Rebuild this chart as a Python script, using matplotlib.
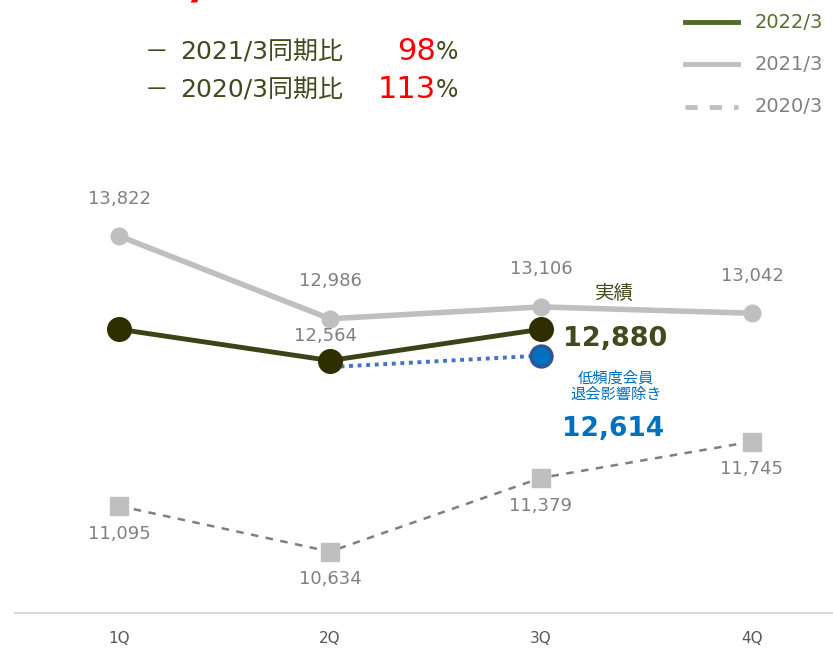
import matplotlib
matplotlib.use("Agg")
import matplotlib.pyplot as plt

plt.rcParams['font.family'] = ['DejaVu Sans', 'Noto Sans CJK JP']

quarters = ["1Q", "2Q", "3Q", "4Q"]
fy2022 = [12880, 12564, 12880]
fy2021 = [13822, 12986, 13106, 13042]
fy2020 = [11095, 10634, 11379, 11745]
adjusted = [12564, 12614]   # 低頻度会員退会影響除き (2Q -> 3Q)

olive = "#3b4419"
olive_text = "#414b1e"
grey_line = "#bfbfbf"
grey_text = "#808080"
blue = "#0070c0"

fig = plt.figure(figsize=(8.33, 6.5), dpi=100)
ax = fig.add_axes([15 / 833, 37 / 650, 818 / 833, 613 / 650])
ax.set_xlim(-0.493, 3.384)
ax.set_ylim(10014, 16206)

x = list(range(len(quarters)))

# 2020/3 dashed
ax.plot(x, fy2020, color="#7f7f7f", lw=1.8, ls=(0, (3, 3)), zorder=2)
ax.plot(x, fy2020, ls="none", marker="s", ms=13, color=grey_line, zorder=3)
# 2021/3
ax.plot(x, fy2021, color=grey_line, lw=4, marker="o", ms=12,
        markerfacecolor=grey_line, markeredgecolor=grey_line, zorder=3)
# 2022/3
ax.plot(x[:3], fy2022, color=olive, lw=3.5, zorder=4)
ax.plot(x[:3], fy2022, ls="none", marker="o", ms=17, color="#2e2e00", zorder=5)
# adjusted
ax.plot([1.05, 2], [adjusted[0] - 60, adjusted[1]], color="#4472c4", lw=2.8,
        ls=(0, (1, 1.2)), zorder=4)
ax.plot(2, adjusted[1], marker="o", ms=15, color=blue, markeredgecolor="#2f5597",
        markeredgewidth=2.5, zorder=6)

# value labels
for i, v in enumerate(fy2021):
    ax.annotate(f"{v:,}", (i, v), xytext=(0, 27), textcoords="offset points",
                ha="center", va="center", fontsize=13, color=grey_text)
for i, v in enumerate(fy2020):
    ax.annotate(f"{v:,}", (i, v), xytext=(0, -20), textcoords="offset points",
                ha="center", va="center", fontsize=13, color=grey_text)
ax.annotate(f"{fy2022[1]:,}", (1, fy2022[1]), xytext=(-3, 18), textcoords="offset points",
            ha="center", va="center", fontsize=13, color=grey_text)

ax.annotate("実績", (2, fy2022[2]), xytext=(53, 26), textcoords="offset points",
            ha="center", va="center", fontsize=14, color=olive_text)
ax.annotate(f"{fy2022[2]:,}", (2, fy2022[2]), xytext=(16, -7), textcoords="offset points",
            ha="left", va="center", fontsize=19.5, fontweight="bold", color=olive_text)
ax.annotate("低頻度会員\n退会影響除き", (2, adjusted[1]), xytext=(54, -22),
            textcoords="offset points", ha="center", va="center", fontsize=11,
            color=blue, linespacing=1.1)
ax.annotate(f"{adjusted[1]:,}", (2, adjusted[1]), xytext=(52, -53), textcoords="offset points",
            ha="center", va="center", fontsize=19, fontweight="bold", color=blue)

ax.set_xticks(x)
ax.set_xticklabels(quarters, fontsize=11, color="#595959")
ax.tick_params(axis="x", length=0, pad=13)
ax.set_yticks([])
for s in ["top", "left", "right"]:
    ax.spines[s].set_visible(False)
ax.spines["bottom"].set_color("#d9d9d9")
ax.spines["bottom"].set_linewidth(1.5)
ax.patch.set_alpha(0)

# header text (top line is cut off in the source)
fig.text(205 / 833, 1 - 8 / 650, "/", color="red", fontsize=40, fontweight="bold",
         style="italic", ha="center", va="bottom")
rows = [("2021/3同期比", "98", 52), ("2020/3同期比", "113", 90)]
for label, pct, y in rows:
    fig.text(145 / 833, 1 - y / 650, "－", fontsize=17, color=olive_text, va="center")
    fig.text(180 / 833, 1 - y / 650, label, fontsize=18, color=olive_text, va="center")
    fig.text(436 / 833, 1 - (y - 1) / 650, pct, fontsize=22, color="red", va="center", ha="right")
    fig.text(436 / 833, 1 - y / 650, "%", fontsize=17, color=olive_text, va="center")

# legend
legend = [("2022/3", "#4e6b2a", "#56702e", "-", 3.5, 22),
          ("2021/3", grey_line, grey_text, "-", 3.5, 64),
          ("2020/3", grey_line, grey_text, (0, (2.5, 2.5)), 3.5, 107)]
for name, lc, tc, ls, lw, y in legend:
    yy = 1 - y / 650
    fig.add_artist(plt.Line2D([685 / 833, 738 / 833], [yy, yy], color=lc, lw=lw, ls=ls,
                              transform=fig.transFigure))
    fig.text(755 / 833, yy, name, fontsize=14, color=tc, va="center")

fig.savefig("out.png", dpi=100)
